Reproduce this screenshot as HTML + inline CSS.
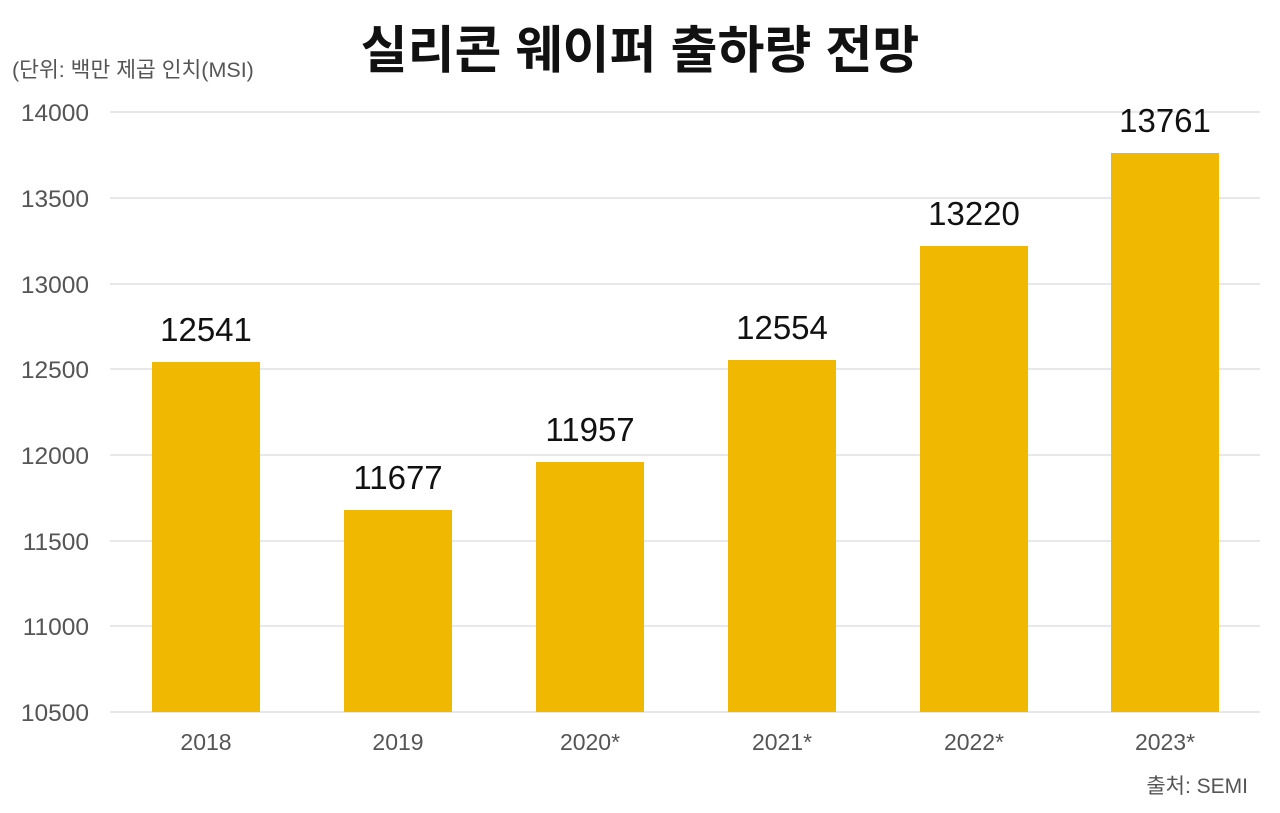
<!DOCTYPE html>
<html><head><meta charset="utf-8"><style>
html,body{margin:0;padding:0;background:#fff;}
svg{display:block;font-family:"Liberation Sans","Noto Sans CJK KR",sans-serif;}
</style></head><body>
<svg width="1280" height="813" viewBox="0 0 1280 813">
<rect width="1280" height="813" fill="#fff"/>
<text x="640" y="68" text-anchor="middle" font-size="51" font-weight="bold" fill="#111">실리콘 웨이퍼 출하량 전망</text>
<text x="12" y="77" font-size="21.5" fill="#555">(단위: 백만 제곱 인치(MSI)</text>
<g stroke="#d0d0d0" stroke-width="1">
<line x1="110" x2="1260" y1="112" y2="112"/>
<line x1="110" x2="1260" y1="198" y2="198"/>
<line x1="110" x2="1260" y1="284" y2="284"/>
<line x1="110" x2="1260" y1="369" y2="369"/>
<line x1="110" x2="1260" y1="455" y2="455"/>
<line x1="110" x2="1260" y1="541" y2="541"/>
<line x1="110" x2="1260" y1="626" y2="626"/>
<line x1="110" x2="1260" y1="712" y2="712"/>
</g>
<g font-size="24.5" fill="#555" text-anchor="end">
<text x="89" y="121">14000</text>
<text x="89" y="207">13500</text>
<text x="89" y="293">13000</text>
<text x="89" y="378">12500</text>
<text x="89" y="464">12000</text>
<text x="89" y="550">11500</text>
<text x="89" y="635">11000</text>
<text x="89" y="721">10500</text>
</g>
<g fill="#F0B800">
<rect x="152" y="362" width="108" height="350"/>
<rect x="344" y="510" width="108" height="202"/>
<rect x="536" y="462" width="108" height="250"/>
<rect x="728" y="360" width="108" height="352"/>
<rect x="920" y="246" width="108" height="466"/>
<rect x="1111" y="153" width="108" height="559"/>
</g>
<g font-size="33" fill="#111" text-anchor="middle">
<text x="206" y="341">12541</text>
<text x="398" y="489">11677</text>
<text x="590" y="441">11957</text>
<text x="782" y="339">12554</text>
<text x="974" y="225">13220</text>
<text x="1165" y="132">13761</text>
</g>
<g font-size="23" fill="#555" text-anchor="middle">
<text x="206" y="750">2018</text>
<text x="398" y="750">2019</text>
<text x="590" y="750">2020*</text>
<text x="782" y="750">2021*</text>
<text x="974" y="750">2022*</text>
<text x="1165" y="750">2023*</text>
</g>
<text x="1248" y="793" text-anchor="end" font-size="21" fill="#555">출처: SEMI</text>
</svg>
</body></html>
